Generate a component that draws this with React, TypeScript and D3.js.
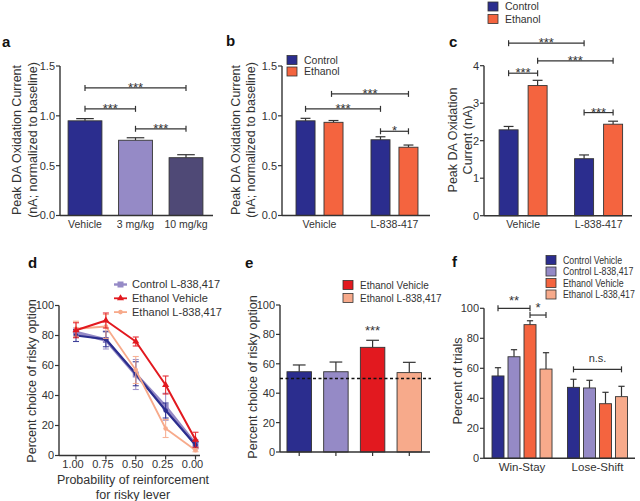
import * as d3 from 'd3';

const navy = '#2b2d8e';
const lavender = '#958ac6';
const plum = '#4f4976';
const orange = '#f4643f';
const red = '#e2191f';
const salmon = '#f7aa8b';
const ink = '#333333';
const font = 'Arial, "Liberation Sans", Helvetica, sans-serif';

// panel a
const aCats = ['Vehicle', '3 mg/kg', '10 mg/kg'];
const aValues = [0.95, 0.755, 0.58];
const aErrors = [0.022, 0.025, 0.03];
const aTicks = [0, 0.5, 1.0, 1.5];

// panel b
const bGroups = ['Vehicle', 'L-838-417'];
const bSeries = ['Control', 'Ethanol'];
const bControl = [0.95, 0.76];
const bControlErr = [0.025, 0.03];
const bEthanol = [0.935, 0.685];
const bEthanolErr = [0.018, 0.022];

// panel c
const cGroups = ['Vehicle', 'L-838-417'];
const cControl = [2.29, 1.52];
const cControlErr = [0.09, 0.1];
const cEthanol = [3.47, 2.44];
const cEthanolErr = [0.14, 0.08];
const cTicks = [0, 1, 2, 3, 4];

// panel d
const dProbs = ['1.00', '0.75', '0.50', '0.25', '0.00'];
const dControlVehicle = [80, 77.5, 54.5, 30, 7];
const dControlVehicleErr = [4, 5, 8, 5, 2];
const dControlDrug = [82, 77, 54, 32.5, 7.5];
const dControlDrugErr = [3, 6, 10, 9, 3];
const dEthanolVehicle = [83.5, 90, 76, 47, 10.5];
const dEthanolVehicleErr = [5, 5, 3, 6, 5];
const dEthanolDrug = [84.5, 86, 57, 18, 3.5];
const dEthanolDrugErr = [5, 8, 9, 6, 1];
const pctTicks = [0, 20, 40, 60, 80, 100];

// panel e
const groupNames = ['Control Vehicle', 'Control L-838,417', 'Ethanol Vehicle', 'Ethanol L-838,417'];
const eValues = [54.6, 54.6, 71.2, 54];
const eErrors = [4.6, 6.6, 4.8, 7];
const eChance = 50;

// panel f
const fGroups = ['Win-Stay', 'Lose-Shift'];
const fValues = [
  [54.9, 67.7, 89.1, 59.5],
  [47.3, 46.9, 36.4, 41.1],
];
const fErrors = [
  [5.5, 4.7, 2.6, 10.9],
  [5.4, 5.1, 7.6, 6.9],
];

type Lin = d3.ScaleLinear<number, number>;

const tickSize = 10.5;

const YAxis = ({ x, y, ticks, fmt }: { x: number; y: Lin; ticks: number[]; fmt: (v: number) => string }) => (
  <g>
    <line x1={x} x2={x} y1={y(ticks[0])} y2={y(ticks[ticks.length - 1])} stroke={ink} strokeWidth={1.4} />
    {ticks.map((t) => (
      <g key={t}>
        <line x1={x - 4} x2={x} y1={y(t)} y2={y(t)} stroke={ink} strokeWidth={1.2} />
        <text x={x - 5} y={y(t)} dy="0.36em" textAnchor="end" fontSize={tickSize + 0.5} fill={ink}>
          {fmt(t)}
        </text>
      </g>
    ))}
  </g>
);

const Bracket = ({ x1, x2, y, label, size = 13, dy = 4 }: { x1: number; x2: number; y: number; label: string; size?: number; dy?: number }) => (
  <g stroke={ink} strokeWidth={1.2}>
    <line x1={x1} x2={x2} y1={y} y2={y} />
    <line x1={x1} x2={x1} y1={y - 3} y2={y + 3} />
    <line x1={x2} x2={x2} y1={y - 3} y2={y + 3} />
    <text x={(x1 + x2) / 2} y={y + dy} textAnchor="middle" fontSize={size} fill={ink} stroke="none">
      {label}
    </text>
  </g>
);

const Bar = ({ x, w, y, base, value, err, fill }: { x: number; w: number; y: Lin; base: number; value: number; err: number; fill: string }) => {
  const cx = x + w / 2;
  const cap = w * 0.26;
  return (
    <g>
      <line x1={cx} x2={cx} y1={y(value)} y2={y(value + err)} stroke={ink} strokeWidth={1.2} />
      <line x1={cx - cap} x2={cx + cap} y1={y(value + err)} y2={y(value + err)} stroke={ink} strokeWidth={1.2} />
      <rect x={x} y={y(value)} width={w} height={base - y(value)} fill={fill} stroke={ink} strokeWidth={0.9} />
    </g>
  );
};

// legend square + label; squeeze narrows the label horizontally
const Swatch = ({ x, y, fill, label, size = 10.5, squeeze = 1 }: { x: number; y: number; fill: string; label: string; size?: number; squeeze?: number }) => (
  <g>
    <rect x={x} y={y - 4.5} width={10} height={9} fill={fill} stroke={ink} strokeWidth={0.8} />
    <text transform={`translate(${x + 17},${y}) scale(${squeeze},1)`} dy="0.36em" fontSize={size} fill={ink}>
      {label}
    </text>
  </g>
);

const YTitle = ({ x, y, lines, gap = 15 }: { x: number; y: number; lines: string[]; gap?: number }) => (
  <g>
    {lines.map((l, i) => (
      <text key={l} transform={`translate(${x + i * gap},${y}) rotate(-90)`} textAnchor="middle" fontSize={12.5} fill={ink}>
        {l}
      </text>
    ))}
  </g>
);

const PanelLabel = ({ x, y, t }: { x: number; y: number; t: string }) => (
  <text x={x} y={y} fontSize={15} fontWeight="bold" fill="#111">
    {t}
  </text>
);

const fmt1 = d3.format('.1f');
const fmt0 = d3.format('d');

const Marker = ({ kind, x, y, color }: { kind: string; x: number; y: number; color: string }) => {
  if (kind === 'square') return <rect x={x - 3} y={y - 3} width={6} height={6} fill={color} />;
  if (kind === 'triangle') return <path d={d3.symbol(d3.symbolTriangle, 22)() || ''} transform={`translate(${x},${y})`} fill={color} />;
  return <circle cx={x} cy={y} r={2.3} fill={color} />;
};

export default function App() {
  // ---------- a ----------
  const aX = d3.scaleBand().domain(aCats).range([60, 211]).paddingInner(0.33).paddingOuter(0.16);
  const aY = d3.scaleLinear().domain([0, 1.5]).range([215.5, 66]);
  const aColors = [navy, lavender, plum];
  const aC = (c: string) => (aX(c) || 0) + aX.bandwidth() / 2;

  // ---------- b ----------
  const bX = d3.scaleBand().domain(bGroups).range([282, 432]).paddingInner(0.373).paddingOuter(0.187);
  const bSub = d3.scaleBand().domain(bSeries).range([0, bX.bandwidth()]).paddingInner(0.32);
  const bY = d3.scaleLinear().domain([0, 1.5]).range([215.5, 66]);
  const bC = (g: string, s: string) => (bX(g) || 0) + (bSub(s) || 0) + bSub.bandwidth() / 2;

  // ---------- c ----------
  const cX = d3.scaleBand().domain(cGroups).range([484, 637.7]).paddingInner(0.364).paddingOuter(0.2);
  const cSub = d3.scaleBand().domain(bSeries).range([0, cX.bandwidth()]).paddingInner(0.345);
  const cY = d3.scaleLinear().domain([0, 4]).range([215.7, 65.7]);
  const cC = (g: string, s: string) => (cX(g) || 0) + (cSub(s) || 0) + cSub.bandwidth() / 2;

  // ---------- d ----------
  const dX = d3.scalePoint().domain(dProbs).range([76, 195.5]);
  const dY = d3.scaleLinear().domain([0, 100]).range([455.5, 305.5]);
  const dLine = d3
    .line<number>()
    .x((_, i) => dX(dProbs[i]) || 0)
    .y((v) => dY(v));
  const dSeries = [
    { name: 'Control L-838,417', values: dControlDrug, errs: dControlDrugErr, color: lavender, width: 3.4, marker: 'square' },
    { name: 'Control Vehicle', values: dControlVehicle, errs: dControlVehicleErr, color: navy, width: 2.2, marker: 'circle' },
    { name: 'Ethanol L-838,417', values: dEthanolDrug, errs: dEthanolDrugErr, color: salmon, width: 1.8, marker: 'circle' },
    { name: 'Ethanol Vehicle', values: dEthanolVehicle, errs: dEthanolVehicleErr, color: red, width: 2, marker: 'triangle' },
  ];
  const dLegend = [dSeries[0], dSeries[3], dSeries[2]];

  // ---------- e ----------
  const eX = d3.scaleBand().domain(groupNames).range([280, 428.5]).paddingInner(0.333).paddingOuter(0.19);
  const eY = d3.scaleLinear().domain([0, 100]).range([452, 305]);
  const eColors = [navy, lavender, red, salmon];

  // ---------- f ----------
  const fX = d3.scaleBand().domain(fGroups).range([484, 635.5]).paddingInner(0.205).paddingOuter(0.106);
  const fSub = d3.scaleBand().domain(groupNames).range([0, fX.bandwidth()]).paddingInner(0.25);
  const fY = d3.scaleLinear().domain([0, 100]).range([458.3, 308.3]);
  const fColors = [navy, lavender, orange, salmon];
  const fC = (g: string, s: string) => (fX(g) || 0) + (fSub(s) || 0) + fSub.bandwidth() / 2;

  return (
    <svg
      width={640}
      height={501}
      viewBox="0 0 640 501"
      style={{ position: 'absolute', left: 0, top: 0, background: '#fff' }}
      fontFamily={font}
    >
      <rect width={640} height={501} fill="#fff" />

      {/* ---------- a ---------- */}
      <PanelLabel x={2} y={46.5} t="a" />
      <YTitle x={21} y={140} lines={['Peak DA Oxidation Current', '(nA; normalized to baseline)']} gap={16} />
      {aCats.map((c, i) => (
        <Bar key={c} x={aX(c) || 0} w={aX.bandwidth()} y={aY} base={aY(0)} value={aValues[i]} err={aErrors[i]} fill={aColors[i]} />
      ))}
      <YAxis x={60} y={aY} ticks={aTicks} fmt={fmt1} />
      <line x1={60} x2={213} y1={aY(0)} y2={aY(0)} stroke={ink} strokeWidth={1.4} />
      {aCats.map((c) => (
        <text key={c} x={aC(c)} y={228} textAnchor="middle" fontSize={tickSize} fill={ink}>
          {c}
        </text>
      ))}
      <Bracket x1={aC(aCats[0])} x2={aC(aCats[2])} y={aY(1.28)} label="***" />
      <Bracket x1={aC(aCats[0])} x2={aC(aCats[1])} y={aY(1.07)} label="***" />
      <Bracket x1={aC(aCats[1])} x2={aC(aCats[2])} y={aY(0.87)} label="***" />

      {/* ---------- b ---------- */}
      <PanelLabel x={226} y={46} t="b" />
      <YTitle x={240} y={140} lines={['Peak DA Oxidation Current', '(nA; normalized to baseline)']} gap={15} />
      {bGroups.map((g, i) => (
        <g key={g}>
          <Bar x={(bX(g) || 0) + (bSub('Control') || 0)} w={bSub.bandwidth()} y={bY} base={bY(0)} value={bControl[i]} err={bControlErr[i]} fill={navy} />
          <Bar x={(bX(g) || 0) + (bSub('Ethanol') || 0)} w={bSub.bandwidth()} y={bY} base={bY(0)} value={bEthanol[i]} err={bEthanolErr[i]} fill={orange} />
          <text x={(bX(g) || 0) + bX.bandwidth() / 2} y={228} textAnchor="middle" fontSize={tickSize} fill={ink}>
            {g}
          </text>
        </g>
      ))}
      <YAxis x={282} y={bY} ticks={aTicks} fmt={fmt1} />
      <line x1={282} x2={430} y1={bY(0)} y2={bY(0)} stroke={ink} strokeWidth={1.4} />
      <Bracket x1={bC(bGroups[0], 'Ethanol') - 2} x2={bC(bGroups[1], 'Ethanol')} y={bY(1.22)} label="***" />
      <Bracket x1={bC(bGroups[0], 'Control')} x2={bC(bGroups[1], 'Control')} y={bY(1.07)} label="***" />
      <Bracket x1={bC(bGroups[1], 'Control')} x2={bC(bGroups[1], 'Ethanol')} y={bY(0.845)} label="*" dy={4} />
      <Swatch x={287} y={60} fill={navy} label="Control" />
      <Swatch x={287} y={71.5} fill={orange} label="Ethanol" />

      {/* ---------- c ---------- */}
      <PanelLabel x={449} y={46.5} t="c" />
      <YTitle x={457} y={140} lines={['Peak DA Oxidation', 'Current (nA)']} gap={14.5} />
      {cGroups.map((g, i) => (
        <g key={g}>
          <Bar x={(cX(g) || 0) + (cSub('Control') || 0)} w={cSub.bandwidth()} y={cY} base={cY(0)} value={cControl[i]} err={cControlErr[i]} fill={navy} />
          <Bar x={(cX(g) || 0) + (cSub('Ethanol') || 0)} w={cSub.bandwidth()} y={cY} base={cY(0)} value={cEthanol[i]} err={cEthanolErr[i]} fill={orange} />
          <text x={(cX(g) || 0) + cX.bandwidth() / 2} y={228} textAnchor="middle" fontSize={tickSize} fill={ink}>
            {g}
          </text>
        </g>
      ))}
      <YAxis x={484} y={cY} ticks={cTicks} fmt={fmt0} />
      <line x1={484} x2={632} y1={cY(0)} y2={cY(0)} stroke={ink} strokeWidth={1.4} />
      <Bracket x1={cC(cGroups[0], 'Control')} x2={cC(cGroups[1], 'Control')} y={cY(4.6)} label="***" />
      <Bracket x1={cC(cGroups[0], 'Ethanol')} x2={cC(cGroups[1], 'Ethanol')} y={cY(4.13)} label="***" />
      <Bracket x1={cC(cGroups[0], 'Control')} x2={cC(cGroups[0], 'Ethanol')} y={cY(3.8)} label="***" />
      <Bracket x1={cC(cGroups[1], 'Control')} x2={cC(cGroups[1], 'Ethanol')} y={cY(2.75)} label="***" />
      <Swatch x={488} y={6.5} fill={navy} label="Control" />
      <Swatch x={488} y={19} fill={orange} label="Ethanol" />

      {/* ---------- d ---------- */}
      <PanelLabel x={28} y={267.5} t="d" />
      <YTitle x={36} y={381} lines={['Percent choice of risky option']} />
      <YAxis x={59} y={dY} ticks={pctTicks} fmt={fmt0} />
      <line x1={59} x2={200} y1={dY(0)} y2={dY(0)} stroke={ink} strokeWidth={1.4} />
      {dProbs.map((p) => (
        <g key={p}>
          <line x1={dX(p)} x2={dX(p)} y1={dY(0)} y2={dY(0) + 4} stroke={ink} strokeWidth={1.2} />
          <text x={(dX(p) || 0) - 3} y={468} textAnchor="middle" fontSize={tickSize + 0.5} fill={ink}>
            {p}
          </text>
        </g>
      ))}
      {dSeries.map((s) => (
        <g key={s.name}>
          {s.values.map((v, i) => {
            const x = dX(dProbs[i]) || 0;
            return (
              <g key={i} stroke={s.color} strokeWidth={1.1} opacity={0.9}>
                <line x1={x} x2={x} y1={dY(v - s.errs[i])} y2={dY(v + s.errs[i])} />
                <line x1={x - 3} x2={x + 3} y1={dY(v - s.errs[i])} y2={dY(v - s.errs[i])} />
                <line x1={x - 3} x2={x + 3} y1={dY(v + s.errs[i])} y2={dY(v + s.errs[i])} />
              </g>
            );
          })}
          <path d={dLine(s.values) || ''} fill="none" stroke={s.color} strokeWidth={s.width} strokeLinejoin="round" />
          {s.values.map((v, i) => (
            <Marker key={i} kind={s.marker} x={dX(dProbs[i]) || 0} y={dY(v)} color={s.color} />
          ))}
        </g>
      ))}
      {dLegend.map((s, i) => {
        const y = 284.5 + i * 13.8;
        return (
          <g key={s.name}>
            <line x1={114} x2={127} y1={y} y2={y} stroke={s.color} strokeWidth={s === dSeries[0] ? 2.4 : 1.8} />
            <Marker kind={s.marker} x={120.5} y={y} color={s.color} />
            <text x={132} y={y} dy="0.36em" fontSize={11} fill={ink}>
              {s.name}
            </text>
          </g>
        );
      })}
      <text x={133} y={484} textAnchor="middle" fontSize={12.5} fill={ink}>
        Probability of reinforcement
      </text>
      <text x={133} y={499} textAnchor="middle" fontSize={12.5} fill={ink}>
        for risky lever
      </text>

      {/* ---------- e ---------- */}
      <PanelLabel x={245} y={268} t="e" />
      <YTitle x={257} y={377} lines={['Percent choice of risky option']} />
      {groupNames.map((g, i) => (
        <Bar key={g} x={eX(g) || 0} w={eX.bandwidth()} y={eY} base={eY(0)} value={eValues[i]} err={eErrors[i]} fill={eColors[i]} />
      ))}
      <YAxis x={280} y={eY} ticks={pctTicks} fmt={fmt0} />
      <line x1={280} x2={430} y1={eY(0)} y2={eY(0)} stroke={ink} strokeWidth={1.4} />
      {groupNames.map((g) => (
        <line key={g} x1={(eX(g) || 0) + eX.bandwidth() / 2} x2={(eX(g) || 0) + eX.bandwidth() / 2} y1={eY(0)} y2={eY(0) + 4} stroke={ink} strokeWidth={1.2} />
      ))}
      <line x1={280} x2={431} y1={eY(eChance)} y2={eY(eChance)} stroke="#111" strokeWidth={1.5} strokeDasharray="3 2.5" />
      <text x={(eX(groupNames[2]) || 0) + eX.bandwidth() / 2} y={eY(76) - 5} textAnchor="middle" fontSize={13} fill={ink}>
        ***
      </text>
      <Swatch x={343} y={285} fill={red} label="Ethanol Vehicle" size={10.4} squeeze={0.96} />
      <Swatch x={343} y={298} fill={salmon} label="Ethanol L-838,417" size={10.4} squeeze={0.96} />

      {/* ---------- f ---------- */}
      <PanelLabel x={452} y={267} t="f" />
      <YTitle x={462} y={381} lines={['Percent of trials']} />
      {fGroups.map((g, gi) => (
        <g key={g}>
          {groupNames.map((s, si) => (
            <Bar
              key={s}
              x={(fX(g) || 0) + (fSub(s) || 0)}
              w={fSub.bandwidth()}
              y={fY}
              base={fY(0)}
              value={fValues[gi][si]}
              err={fErrors[gi][si]}
              fill={fColors[si]}
            />
          ))}
          <text x={(fX(g) || 0) + fX.bandwidth() / 2} y={471} textAnchor="middle" fontSize={11.5} fill={ink}>
            {g}
          </text>
        </g>
      ))}
      <YAxis x={484} y={fY} ticks={pctTicks} fmt={fmt0} />
      <line x1={484} x2={635} y1={fY(0)} y2={fY(0)} stroke={ink} strokeWidth={1.4} />
      <Bracket x1={fC(fGroups[0], groupNames[0])} x2={fC(fGroups[0], groupNames[2])} y={fY(100)} label="**" dy={-3} />
      <Bracket x1={fC(fGroups[0], groupNames[2])} x2={fC(fGroups[0], groupNames[3])} y={fY(95.5)} label="*" dy={-3} />
      <Bracket x1={fC(fGroups[1], groupNames[0])} x2={fC(fGroups[1], groupNames[3])} y={fY(59.3)} label="n.s." size={11} dy={-7} />
      {groupNames.map((s, i) => (
        <Swatch key={s} x={546} y={260 + i * 11.5} fill={fColors[i]} label={s} size={10} squeeze={0.88} />
      ))}
    </svg>
  );
}
